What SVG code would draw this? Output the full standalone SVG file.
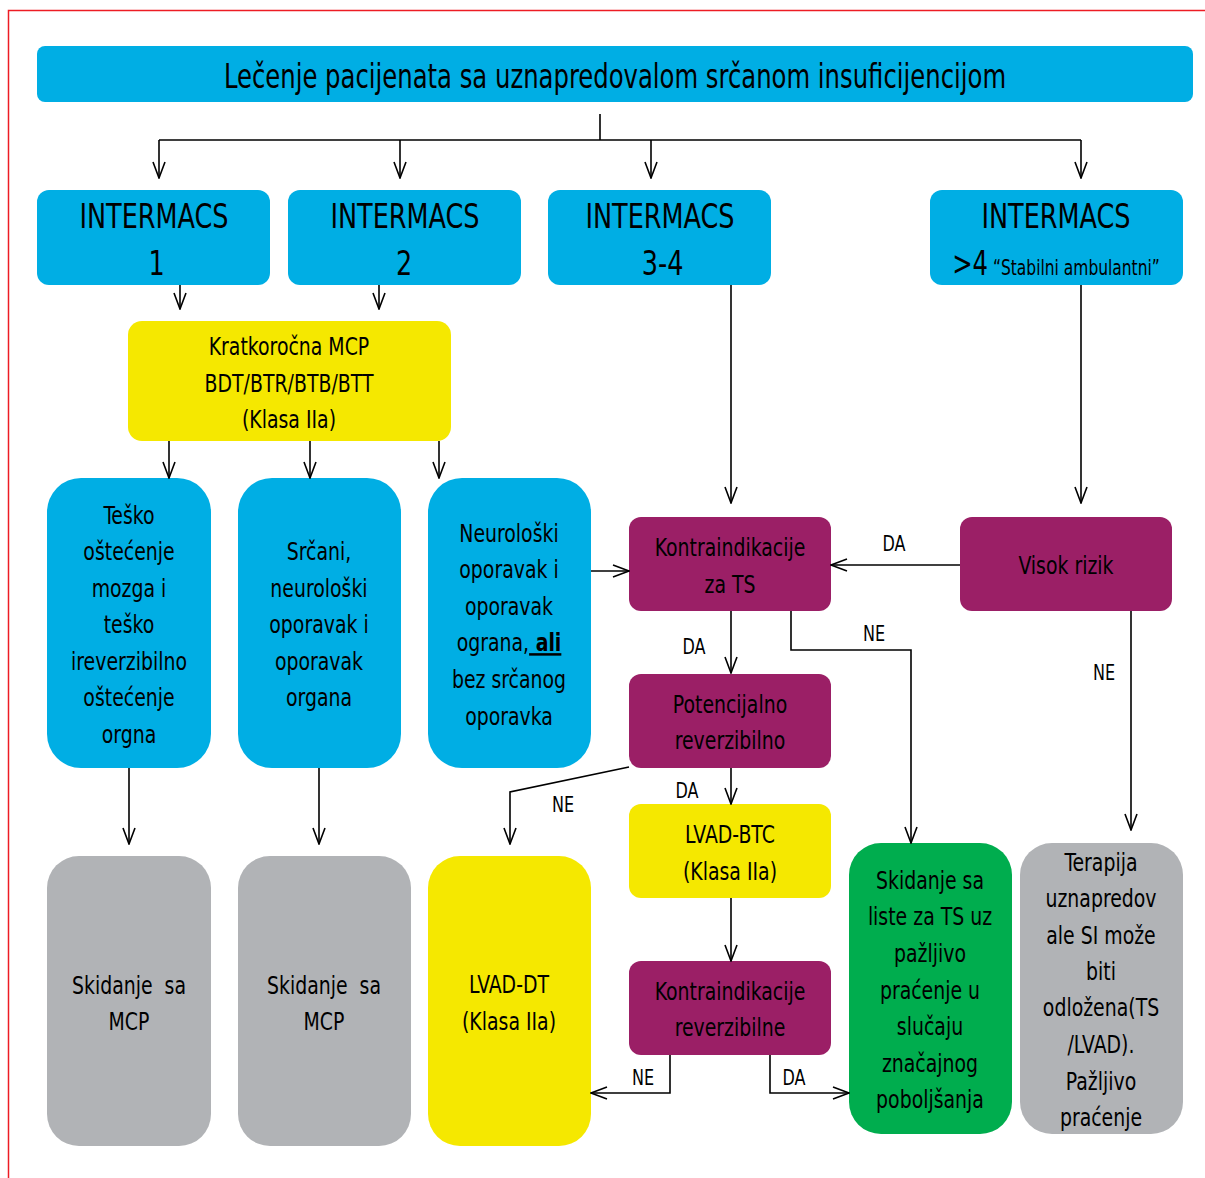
<svg xmlns="http://www.w3.org/2000/svg" width="1205" height="1178" viewBox="0 0 1205 1178">
  <style>
    text { font-family: "DejaVu Sans Condensed", "Liberation Sans", sans-serif; fill: #000; text-anchor: middle; }
    .t { font-size: 34px; }
    .h { font-size: 33px; }
    .b { font-size: 25px; }
    .s { font-size: 21px; }
    .lbl { font-size: 21px; }
    .cyan { fill: #00aee4; }
    .yellow { fill: #f5e800; }
    .purple { fill: #9b1f66; }
    .green { fill: #00ad4e; }
    .gray { fill: #b1b3b6; }
    .ln { fill: none; stroke: #000; stroke-width: 1.6; }
    .ar { fill: none; stroke: #000; stroke-width: 1.6; marker-end: url(#arrow); }
  </style>
  <defs>
    <marker id="arrow" viewBox="0 0 18 14" refX="17" refY="7" markerWidth="18" markerHeight="14" markerUnits="userSpaceOnUse" orient="auto">
      <path d="M1,1 L17,7 L1,13" fill="none" stroke="#000" stroke-width="1.6"/>
    </marker>
  </defs>

  <rect width="1205" height="1178" fill="#fff"/>
  <!-- page frame -->
  <path d="M8.5,1178 V10.5 H1205" fill="none" stroke="#ed1c24" stroke-width="1.5"/>

  <!-- text groups are narrowed horizontally about their centre line: matrix(s,0,0,1,(1-s)*cx,0) -->
  <g id="title">
    <rect class="cyan" x="37" y="46" width="1156" height="56" rx="8"/>
    <g transform="matrix(0.795,0,0,1,126.08,0)">
      <text class="t" x="615" y="88">Lečenje pacijenata sa uznapredovalom srčanom insuficijencijom</text>
    </g>
  </g>

  <g id="intermacs-1">
    <rect class="cyan" x="37" y="190" width="233" height="95" rx="12"/>
    <g transform="matrix(0.86,0,0,1,21.56,0)">
      <text class="h" x="154" y="228">INTERMACS</text>
      <text class="h" x="157" y="275">1</text>
    </g>
  </g>
  <g id="intermacs-2">
    <rect class="cyan" x="288" y="190" width="233" height="95" rx="12"/>
    <g transform="matrix(0.86,0,0,1,56.7,0)">
      <text class="h" x="405" y="228">INTERMACS</text>
      <text class="h" x="404" y="275">2</text>
    </g>
  </g>
  <g id="intermacs-3-4">
    <rect class="cyan" x="548" y="190" width="223" height="95" rx="12"/>
    <g transform="matrix(0.86,0,0,1,92.4,0)">
      <text class="h" x="660" y="228">INTERMACS</text>
      <text class="h" x="663" y="275">3-4</text>
    </g>
  </g>
  <g id="intermacs-4plus">
    <rect class="cyan" x="930" y="190" width="253" height="95" rx="12"/>
    <g transform="matrix(0.86,0,0,1,147.84,0)">
      <text class="h" x="1056" y="228">INTERMACS</text>
    </g>
    <g transform="matrix(0.82,0,0,1,190.08,0)">
      <text x="1056" y="275"><tspan class="h">&gt;4</tspan><tspan class="s"> “Stabilni ambulantni”</tspan></text>
    </g>
  </g>

  <g id="kratkorocna-mcp">
    <rect class="yellow" x="128" y="321" width="323" height="120" rx="14"/>
    <g transform="matrix(0.84,0,0,1,46.24,0)">
      <text class="b" x="289" y="355">Kratkoročna MCP</text>
      <text class="b" x="289" y="392">BDT/BTR/BTB/BTT</text>
      <text class="b" x="289" y="428">(Klasa IIa)</text>
    </g>
  </g>

  <g id="tesko-ostecenje">
    <rect class="cyan" x="47" y="478" width="164" height="290" rx="34"/>
    <g transform="matrix(0.84,0,0,1,20.64,0)">
      <text class="b" x="129" y="524">Teško</text>
      <text class="b" x="129" y="560">oštećenje</text>
      <text class="b" x="129" y="597">mozga i</text>
      <text class="b" x="129" y="633">teško</text>
      <text class="b" x="129" y="670">ireverzibilno</text>
      <text class="b" x="129" y="706">oštećenje</text>
      <text class="b" x="129" y="743">orgna</text>
    </g>
  </g>
  <g id="srcani-oporavak">
    <rect class="cyan" x="238" y="478" width="163" height="290" rx="34"/>
    <g transform="matrix(0.84,0,0,1,51.04,0)">
      <text class="b" x="319" y="560">Srčani,</text>
      <text class="b" x="319" y="597">neurološki</text>
      <text class="b" x="319" y="633">oporavak i</text>
      <text class="b" x="319" y="670">oporavak</text>
      <text class="b" x="319" y="706">organa</text>
    </g>
  </g>
  <g id="neuroloski-oporavak">
    <rect class="cyan" x="428" y="478" width="163" height="290" rx="34"/>
    <g transform="matrix(0.84,0,0,1,81.44,0)">
      <text class="b" x="509" y="542">Neurološki</text>
      <text class="b" x="509" y="578">oporavak i</text>
      <text class="b" x="509" y="615">oporavak</text>
      <text class="b" x="509" y="651">ograna,<tspan font-weight="bold" text-decoration="underline" style="white-space:pre"> ali</tspan></text>
      <text class="b" x="509" y="688">bez srčanog</text>
      <text class="b" x="509" y="725">oporavka</text>
    </g>
  </g>

  <g id="skidanje-mcp-1">
    <rect class="gray" x="47" y="856" width="164" height="290" rx="32"/>
    <g transform="matrix(0.84,0,0,1,20.64,0)">
      <text class="b" x="129" y="994" style="white-space:pre">Skidanje  sa</text>
      <text class="b" x="129" y="1030">MCP</text>
    </g>
  </g>
  <g id="skidanje-mcp-2">
    <rect class="gray" x="238" y="856" width="173" height="290" rx="32"/>
    <g transform="matrix(0.84,0,0,1,51.84,0)">
      <text class="b" x="324" y="994" style="white-space:pre">Skidanje  sa</text>
      <text class="b" x="324" y="1030">MCP</text>
    </g>
  </g>
  <g id="lvad-dt">
    <rect class="yellow" x="428" y="856" width="163" height="290" rx="32"/>
    <g transform="matrix(0.84,0,0,1,81.44,0)">
      <text class="b" x="509" y="993">LVAD-DT</text>
      <text class="b" x="509" y="1030">(Klasa IIa)</text>
    </g>
  </g>

  <g id="kontraindikacije-ts">
    <rect class="purple" x="629" y="517" width="202" height="94" rx="12"/>
    <g transform="matrix(0.84,0,0,1,116.8,0)">
      <text class="b" x="730" y="556">Kontraindikacije</text>
      <text class="b" x="730" y="593">za TS</text>
    </g>
  </g>
  <g id="visok-rizik">
    <rect class="purple" x="960" y="517" width="212" height="94" rx="12"/>
    <g transform="matrix(0.84,0,0,1,170.56,0)">
      <text class="b" x="1066" y="574">Visok rizik</text>
    </g>
  </g>
  <g id="potencijalno-reverzibilno">
    <rect class="purple" x="629" y="674" width="202" height="94" rx="12"/>
    <g transform="matrix(0.84,0,0,1,116.8,0)">
      <text class="b" x="730" y="713">Potencijalno</text>
      <text class="b" x="730" y="749">reverzibilno</text>
    </g>
  </g>
  <g id="lvad-btc">
    <rect class="yellow" x="629" y="804" width="202" height="94" rx="12"/>
    <g transform="matrix(0.84,0,0,1,116.8,0)">
      <text class="b" x="730" y="843">LVAD-BTC</text>
      <text class="b" x="730" y="880">(Klasa IIa)</text>
    </g>
  </g>
  <g id="kontraindikacije-reverzibilne">
    <rect class="purple" x="629" y="961" width="202" height="94" rx="12"/>
    <g transform="matrix(0.84,0,0,1,116.8,0)">
      <text class="b" x="730" y="1000">Kontraindikacije</text>
      <text class="b" x="730" y="1036">reverzibilne</text>
    </g>
  </g>

  <g id="skidanje-liste-ts">
    <rect class="green" x="849" y="843" width="163" height="291" rx="32"/>
    <g transform="matrix(0.84,0,0,1,148.8,0)">
      <text class="b" x="930" y="889">Skidanje sa</text>
      <text class="b" x="930" y="925">liste za TS uz</text>
      <text class="b" x="930" y="962">pažljivo</text>
      <text class="b" x="930" y="999">praćenje u</text>
      <text class="b" x="930" y="1035">slučaju</text>
      <text class="b" x="930" y="1072">značajnog</text>
      <text class="b" x="930" y="1108">poboljšanja</text>
    </g>
  </g>
  <g id="terapija-odlozena">
    <rect class="gray" x="1020" y="843" width="163" height="291" rx="32"/>
    <g transform="matrix(0.84,0,0,1,176.16,0)">
      <text class="b" x="1101" y="871">Terapija</text>
      <text class="b" x="1101" y="907">uznapredov</text>
      <text class="b" x="1101" y="944">ale SI može</text>
      <text class="b" x="1101" y="980">biti</text>
      <text class="b" x="1101" y="1016">odložena(TS</text>
      <text class="b" x="1101" y="1053">/LVAD).</text>
      <text class="b" x="1101" y="1090">Pažljivo</text>
      <text class="b" x="1101" y="1126">praćenje</text>
    </g>
  </g>

  <g id="connectors">
    <!-- title to INTERMACS classes -->
    <path class="ln" d="M600,114 V140 M159,140 H1081"/>
    <path class="ar" d="M159,140 V178"/>
    <path class="ar" d="M400,140 V178"/>
    <path class="ar" d="M651,140 V178"/>
    <path class="ar" d="M1081,140 V178"/>
    <!-- INTERMACS 1/2 to short-term MCP -->
    <path class="ar" d="M180,285 V309"/>
    <path class="ar" d="M379,285 V309"/>
    <!-- short-term MCP outcomes -->
    <path class="ar" d="M169,441 V478"/>
    <path class="ar" d="M310,441 V478"/>
    <path class="ar" d="M439,441 V478"/>
    <path class="ar" d="M129,768 V844"/>
    <path class="ar" d="M319,768 V844"/>
    <path class="ar" d="M591,571 H629"/>
    <!-- INTERMACS 3-4 and >4 -->
    <path class="ar" d="M731,285 V503"/>
    <path class="ar" d="M1081,285 V503"/>
    <path class="ar" d="M960,565 H831"/>
    <text class="lbl" x="894" y="551" transform="matrix(0.85,0,0,1,134.1,0)">DA</text>
    <path class="ar" d="M1131,611 V830"/>
    <text class="lbl" x="1104" y="680" transform="matrix(0.85,0,0,1,165.6,0)">NE</text>
    <!-- contraindications for TS -->
    <path class="ar" d="M731,611 V673"/>
    <text class="lbl" x="694" y="654" transform="matrix(0.85,0,0,1,104.1,0)">DA</text>
    <path class="ar" d="M791,611 V650 H911 V843"/>
    <text class="lbl" x="874" y="641" transform="matrix(0.85,0,0,1,131.1,0)">NE</text>
    <!-- potentially reversible -->
    <path class="ar" d="M731,768 V804"/>
    <text class="lbl" x="687" y="798" transform="matrix(0.85,0,0,1,103.05,0)">DA</text>
    <path class="ar" d="M629,767 L510,792 V844"/>
    <text class="lbl" x="563" y="812" transform="matrix(0.85,0,0,1,84.45,0)">NE</text>
    <!-- LVAD-BTC to reversible contraindications -->
    <path class="ar" d="M731,898 V961"/>
    <path class="ar" d="M670,1055 V1093 H591"/>
    <text class="lbl" x="643" y="1085" transform="matrix(0.85,0,0,1,96.45,0)">NE</text>
    <path class="ar" d="M770,1055 V1093 H849"/>
    <text class="lbl" x="794" y="1085" transform="matrix(0.85,0,0,1,119.1,0)">DA</text>
  </g>
</svg>
